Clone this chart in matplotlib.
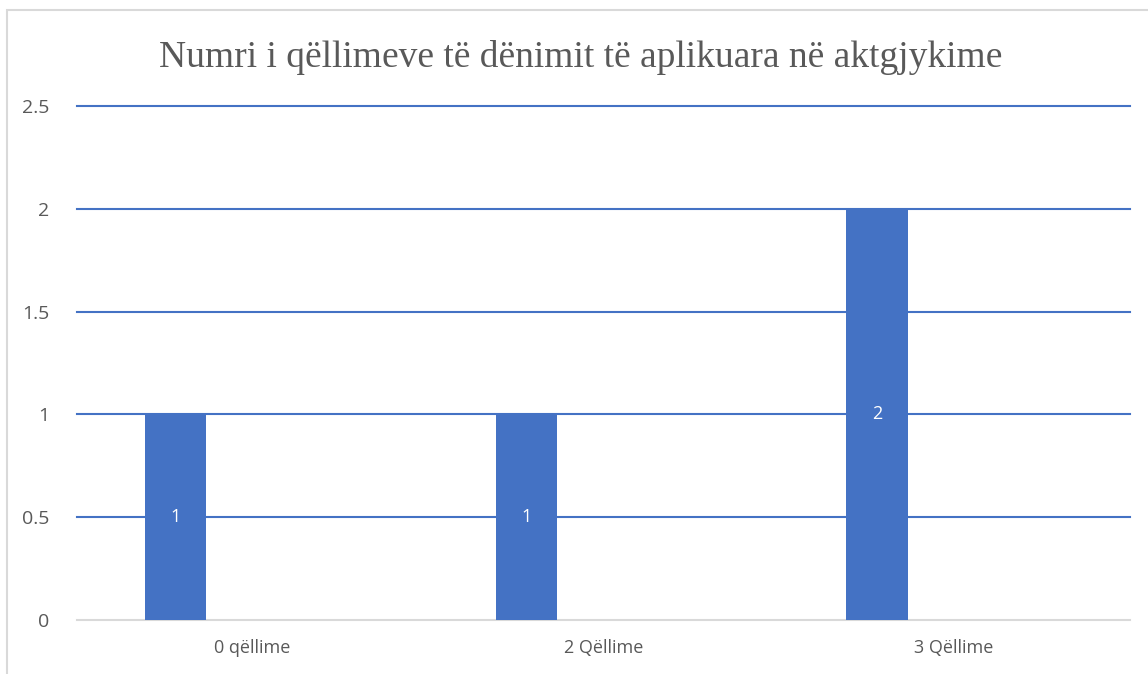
import matplotlib
matplotlib.use("Agg")
import matplotlib.pyplot as plt
from matplotlib.patches import Rectangle

# chart data
categories = ["0 qëllime", "2 Qëllime", "3 Qëllime"]
values = [1, 1, 2]
title = "Numri i qëllimeve të dënimit të aplikuara në aktgjykime"
yticks = [0, 0.5, 1, 1.5, 2, 2.5]
ytick_labels = ["0", "0.5", "1", "1.5", "2", "2.5"]

bar_color = "#4472C4"
text_color = "#595959"

fig = plt.figure(figsize=(11.48, 6.74), dpi=100)
ax = fig.add_axes([0.067, 0.0801, 0.917, 0.7626])

x = list(range(len(categories)))
offset = -0.22
bars = ax.bar([i + offset for i in x], values, width=0.174, color=bar_color, zorder=3)

for b, v in zip(bars, values):
    ax.text(b.get_x() + b.get_width() / 2, v / 2, str(v), ha="center", va="center",
            color="white", fontsize=13, family="Open Sans", zorder=4)

ax.set_xlim(-0.5, 2.5)
ax.set_ylim(0, 2.5)
ax.set_yticks(yticks)
ax.set_yticklabels(ytick_labels)
ax.set_xticks(x)
ax.set_xticklabels(categories)
ax.tick_params(axis="both", length=0, labelcolor=text_color)
ax.tick_params(axis="y", pad=20, labelsize=14)
ax.tick_params(axis="x", pad=14, labelsize=13)
for lbl in ax.get_xticklabels() + ax.get_yticklabels():
    lbl.set_family("Open Sans")

for s in ["top", "right", "left"]:
    ax.spines[s].set_visible(False)
ax.spines["bottom"].set_color("#d9d9d9")
ax.spines["bottom"].set_linewidth(1.5)
ax.spines["bottom"].set_zorder(2)

for yv in yticks[1:]:
    ax.axhline(yv, color=bar_color, linewidth=1.5, zorder=1, clip_on=False)

fig.text(0.506, 0.914, title, ha="center", va="center", fontsize=27,
         family="Liberation Serif", color=text_color)

# chart border
fig.patches.append(Rectangle((7 / 1148, -0.1), 1.2, 1 - 10 / 674 + 0.1,
                             transform=fig.transFigure, fill=False,
                             edgecolor="#d9d9d9", linewidth=1.5))

fig.savefig("out.png", dpi=100)
